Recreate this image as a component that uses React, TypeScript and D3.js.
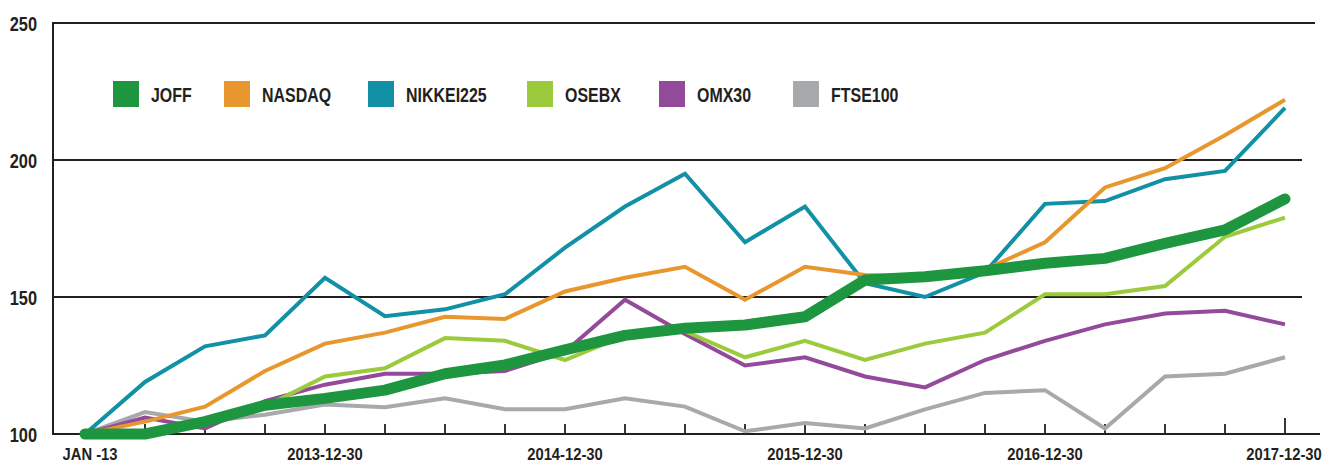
import React from "react";
import * as d3 from "d3";

const periods = [
  "JAN -13", "2013Q1", "2013Q2", "2013Q3", "2013-12-30",
  "2014Q1", "2014Q2", "2014Q3", "2014-12-30",
  "2015Q1", "2015Q2", "2015Q3", "2015-12-30",
  "2016Q1", "2016Q2", "2016Q3", "2016-12-30",
  "2017Q1", "2017Q2", "2017Q3", "2017-12-30",
];
const tickLabels = ["JAN -13", "2013-12-30", "2014-12-30", "2015-12-30", "2016-12-30", "2017-12-30"];
const yTicks = [100, 150, 200, 250];

const seriesNames = ["JOFF", "NASDAQ", "NIKKEI225", "OSEBX", "OMX30", "FTSE100"];
const joff = [100, 100, 104.5, 110.5, 113, 116, 122, 125.2, 130.7, 136, 138.6, 139.8, 142.8, 156.2, 157.4, 159.6, 162.3, 164.1, 169.6, 174.5, 185.8];
const nasdaq = [100, 104.5, 110, 123, 133, 137, 142.8, 142, 152, 157, 161, 149, 161, 158, 157.5, 160, 170, 190, 197, 209, 222];
const nikkei = [100, 119, 132, 136, 157, 143, 145.5, 151, 168, 183, 195, 170, 183, 155, 150, 159, 184, 185, 193, 196, 219];
const osebx = [100, 101, 104, 110, 121, 124, 135, 134, 127, 136, 137.5, 128, 134, 127, 133, 137, 151, 151, 154, 172, 179];
const omx30 = [100, 106, 102, 112, 118, 122, 122, 123, 130, 149, 136.5, 125, 128, 121, 117, 127, 134, 140, 144, 145, 140];
const ftse100 = [100, 108, 104.5, 107, 110.8, 109.8, 113, 109, 109, 113, 110, 101, 104, 102, 109, 115, 116, 102, 121, 122, 128];

const seriesValues = [joff, nasdaq, nikkei, osebx, omx30, ftse100];
const seriesColors = ["#1e963f", "#e8972e", "#1190a6", "#9bcb3c", "#944a9a", "#a7a9ac"];
const seriesWidths = [11, 4, 4, 4, 4, 4];

const legendX = [113, 224, 368, 527, 659, 793];

const W = 1328;
const H = 464;
const FONT = "'Liberation Sans', Arial, sans-serif";
const INK = "#231f20";

export default function App() {
  const x = d3.scalePoint<string>().domain(periods).range([85, 1285]);
  const y = d3.scaleLinear().domain([100, 250]).range([434, 23]);
  const line = d3
    .line<number>()
    .x((_, i) => x(periods[i]) as number)
    .y((d) => y(d));

  const drawOrder = [5, 4, 3, 2, 1, 0];

  return (
    <svg
      width={W}
      height={H}
      style={{ position: "absolute", left: 0, top: 0, background: "#fff" }}
      fontFamily={FONT}
    >
      <rect x={0} y={0} width={W} height={H} fill="#fff" />
      {yTicks.filter((t) => t > 100).map((t) => (
        <line
          key={t}
          x1={53}
          x2={t === 250 ? 1315 : 1302}
          y1={y(t)}
          y2={y(t)}
          stroke={INK}
          strokeWidth={1.8}
        />
      ))}
      <line x1={53} x2={53} y1={y(250) - 1} y2={y(100)} stroke={INK} strokeWidth={2} />
      <line x1={52} x2={1320} y1={y(100)} y2={y(100)} stroke={INK} strokeWidth={2} />
      {periods.slice(1).map((p, i) => (
        <line
          key={p}
          x1={x(p) as number}
          x2={x(p) as number}
          y1={y(100)}
          y2={y(100) - (i === periods.length - 2 ? 16 : 10)}
          stroke={INK}
          strokeWidth={1.8}
        />
      ))}
      {yTicks.map((t) => (
        <text
          key={t}
          transform={`translate(37,${y(t) + 7.5}) scale(0.78,1)`}
          textAnchor="end"
          fontSize={21}
          fontWeight="bold"
          fill={INK}
        >
          {t}
        </text>
      ))}
      {tickLabels.map((lab, i) => (
        <text
          key={lab}
          transform={`translate(${(x(lab) as number) + (i === 0 ? 5 : i === tickLabels.length - 1 ? -1 : 0)},460) scale(0.87,1)`}
          textAnchor="middle"
          fontSize={17}
          fontWeight="bold"
          fill={INK}
        >
          {lab}
        </text>
      ))}
      {drawOrder.map((si) => (
        <path
          key={seriesNames[si]}
          d={line(seriesValues[si]) || ""}
          fill="none"
          stroke={seriesColors[si]}
          strokeWidth={seriesWidths[si]}
          strokeLinejoin={si === 0 ? "round" : "miter"}
          strokeLinecap={si === 0 ? "round" : "butt"}
        />
      ))}
      {seriesNames.map((n, i) => (
        <g key={n}>
          <rect x={legendX[i]} y={81} width={26} height={26} fill={seriesColors[i]} />
          <text
            transform={`translate(${legendX[i] + 38},102) scale(0.76,1)`}
            fontSize={21}
            fontWeight="bold"
            fill={INK}
          >
            {n}
          </text>
        </g>
      ))}
    </svg>
  );
}
